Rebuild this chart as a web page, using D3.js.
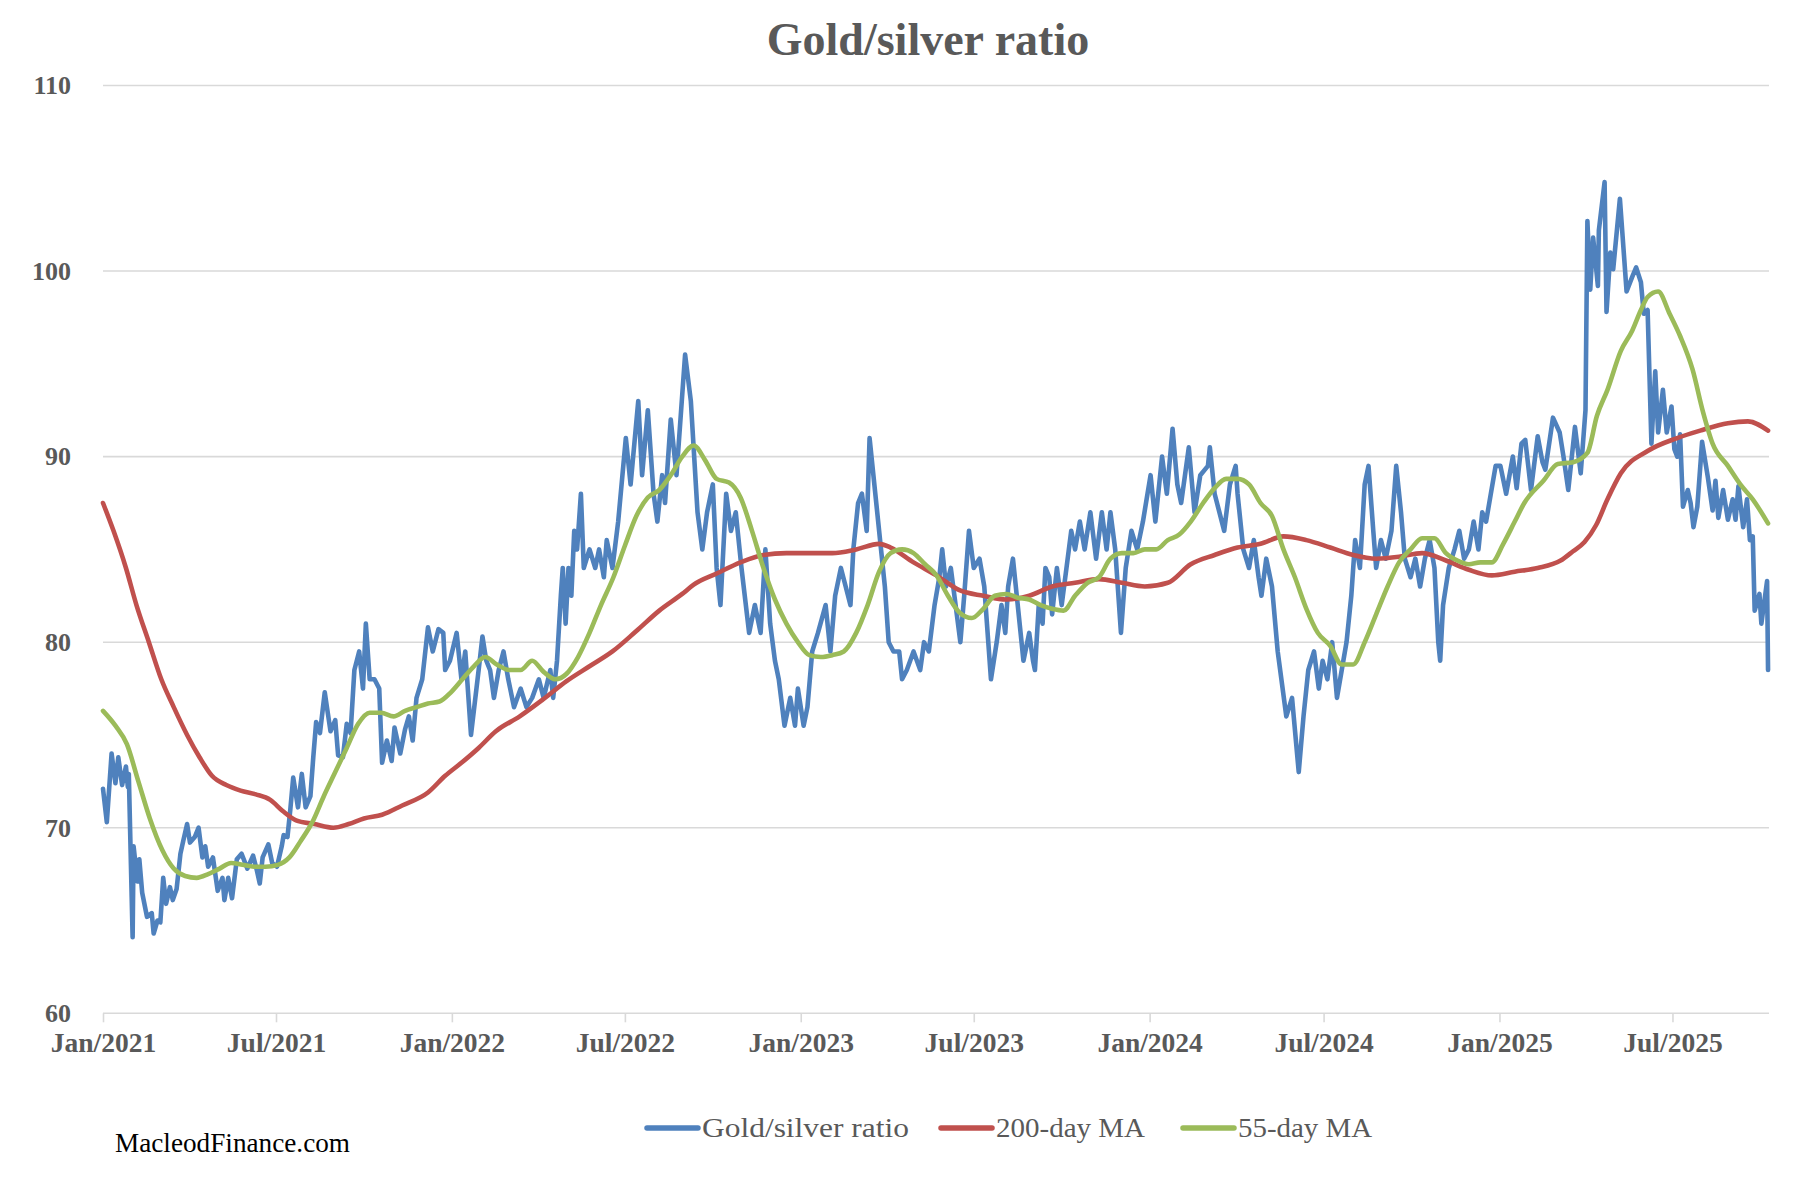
<!DOCTYPE html>
<html>
<head>
<meta charset="utf-8">
<script src="https://cdn.jsdelivr.net/npm/d3@7"></script>
<style>
  html, body { margin: 0; padding: 0; background: #fff; }
  svg text { font-family: "Liberation Serif", "DejaVu Serif", serif; }
</style>
</head>
<body>
<div id="chart"></div>
<script>
// gold/silver ratio
const ratio = [
  ["2021-01-01",72.1],["2021-01-05",70.3],["2021-01-10",74.0],["2021-01-14",72.4],["2021-01-17",73.8],["2021-01-21",72.3],
  ["2021-01-25",73.3],["2021-01-27",72.2],["2021-01-28",72.9],["2021-02-01",64.1],["2021-02-02",69.0],["2021-02-06",67.1],
  ["2021-02-08",68.3],["2021-02-11",66.5],["2021-02-16",65.2],["2021-02-21",65.4],["2021-02-23",64.3],["2021-02-27",65.0],
  ["2021-03-02",64.9],["2021-03-05",67.3],["2021-03-08",65.9],["2021-03-12",66.8],["2021-03-15",66.1],["2021-03-19",66.7],
  ["2021-03-23",68.6],["2021-03-26",69.3],["2021-03-30",70.2],["2021-04-02",69.2],["2021-04-07",69.5],["2021-04-11",70.0],
  ["2021-04-15",68.4],["2021-04-18",69.0],["2021-04-21",67.9],["2021-04-26",68.4],["2021-05-01",66.6],["2021-05-06",67.3],
  ["2021-05-08",66.1],["2021-05-12",67.3],["2021-05-16",66.2],["2021-05-21",68.3],["2021-05-26",68.6],["2021-06-01",67.8],
  ["2021-06-07",68.5],["2021-06-11",67.7],["2021-06-14",67.0],["2021-06-17",68.4],["2021-06-23",69.1],["2021-06-27",68.1],
  ["2021-07-02",67.9],["2021-07-07",69.0],["2021-07-09",69.6],["2021-07-13",69.5],["2021-07-16",71.0],["2021-07-19",72.7],
  ["2021-07-24",71.1],["2021-07-28",72.9],["2021-08-01",71.1],["2021-08-06",71.7],["2021-08-09",73.8],["2021-08-12",75.7],
  ["2021-08-16",75.1],["2021-08-21",77.3],["2021-08-27",75.2],["2021-09-01",75.8],["2021-09-04",73.9],["2021-09-09",73.8],
  ["2021-09-13",75.6],["2021-09-17",75.1],["2021-09-21",78.5],["2021-09-26",79.5],["2021-09-30",77.5],["2021-10-03",81.0],
  ["2021-10-07",78.0],["2021-10-12",78.0],["2021-10-17",77.5],["2021-10-20",73.5],["2021-10-25",74.7],["2021-10-30",73.6],
  ["2021-11-02",75.4],["2021-11-08",74.0],["2021-11-13",75.3],["2021-11-17",76.0],["2021-11-21",74.7],["2021-11-25",77.0],
  ["2021-12-01",78.0],["2021-12-07",80.8],["2021-12-12",79.5],["2021-12-18",80.7],["2021-12-23",80.5],["2021-12-25",78.5],
  ["2021-12-30",79.0],
  ["2022-01-06",80.5],["2022-01-11",78.0],["2022-01-15",79.5],["2022-01-21",75.0],["2022-01-29",78.5],["2022-02-02",80.3],
  ["2022-02-06",79.0],["2022-02-10",78.5],["2022-02-14",77.0],["2022-02-19",78.5],["2022-02-24",79.5],["2022-03-01",78.0],
  ["2022-03-07",76.5],["2022-03-14",77.5],["2022-03-20",76.5],["2022-03-26",77.0],["2022-04-02",78.0],["2022-04-07",77.0],
  ["2022-04-14",78.5],["2022-04-17",77.0],["2022-04-21",79.0],["2022-04-25",82.5],["2022-04-27",84.0],["2022-04-30",81.0],
  ["2022-05-03",84.0],["2022-05-06",82.5],["2022-05-09",86.0],["2022-05-12",85.0],["2022-05-16",88.0],["2022-05-19",84.0],
  ["2022-05-25",85.0],["2022-05-31",84.0],["2022-06-04",85.0],["2022-06-09",83.5],["2022-06-12",85.5],["2022-06-18",84.0],
  ["2022-06-24",86.5],["2022-07-02",91.0],["2022-07-07",88.5],["2022-07-15",93.0],["2022-07-19",89.0],["2022-07-25",92.5],
  ["2022-07-31",88.0],["2022-08-04",86.5],["2022-08-09",89.0],["2022-08-12",87.5],["2022-08-18",92.0],["2022-08-24",89.0],
  ["2022-09-02",95.5],["2022-09-08",93.0],["2022-09-15",87.0],["2022-09-20",85.0],["2022-09-25",87.0],["2022-10-01",88.5],
  ["2022-10-05",84.0],["2022-10-09",82.0],["2022-10-15",88.0],["2022-10-20",86.0],["2022-10-25",87.0],["2022-10-31",84.0],
  ["2022-11-08",80.5],["2022-11-14",82.0],["2022-11-20",80.5],["2022-11-25",85.0],["2022-11-30",81.0],["2022-12-05",79.0],
  ["2022-12-09",78.0],["2022-12-15",75.5],["2022-12-21",77.0],["2022-12-26",75.5],["2022-12-29",77.5],
  ["2023-01-04",75.5],["2023-01-08",76.5],["2023-01-13",79.5],["2023-01-19",80.5],["2023-01-27",82.0],["2023-02-01",79.5],
  ["2023-02-06",82.5],["2023-02-12",84.0],["2023-02-17",83.0],["2023-02-22",82.0],["2023-02-25",85.0],["2023-03-02",87.5],
  ["2023-03-06",88.0],["2023-03-11",86.0],["2023-03-14",91.0],["2023-03-20",88.0],["2023-03-26",85.0],["2023-03-30",83.0],
  ["2023-04-03",80.0],["2023-04-08",79.5],["2023-04-14",79.5],["2023-04-17",78.0],["2023-04-22",78.5],["2023-04-29",79.5],
  ["2023-05-06",78.5],["2023-05-10",80.0],["2023-05-15",79.5],["2023-05-21",82.0],["2023-05-26",83.5],["2023-05-29",85.0],
  ["2023-06-02",83.0],["2023-06-07",84.0],["2023-06-12",82.0],["2023-06-17",80.0],["2023-06-21",82.5],["2023-06-26",86.0],
  ["2023-07-01",84.0],["2023-07-07",84.5],["2023-07-12",83.0],["2023-07-19",78.0],["2023-07-25",80.0],["2023-07-30",82.0],
  ["2023-08-03",80.5],["2023-08-06",83.0],["2023-08-11",84.5],["2023-08-16",82.0],["2023-08-22",79.0],["2023-08-28",80.5],
  ["2023-09-01",79.0],["2023-09-03",78.5],["2023-09-07",82.0],["2023-09-11",81.0],["2023-09-14",84.0],["2023-09-18",83.5],
  ["2023-09-21",81.5],["2023-09-26",84.0],["2023-10-01",82.0],["2023-10-06",84.0],["2023-10-11",86.0],["2023-10-15",85.0],
  ["2023-10-20",86.5],["2023-10-25",85.0],["2023-10-31",87.0],["2023-11-06",84.5],["2023-11-12",87.0],["2023-11-17",85.0],
  ["2023-11-21",87.0],["2023-11-26",85.0],["2023-12-02",80.5],["2023-12-07",84.0],["2023-12-13",86.0],["2023-12-19",85.0],
  ["2023-12-25",86.5],
  ["2024-01-02",89.0],["2024-01-07",86.5],["2024-01-14",90.0],["2024-01-19",88.0],["2024-01-25",91.5],["2024-01-30",88.5],
  ["2024-02-03",87.5],["2024-02-11",90.5],["2024-02-17",87.0],["2024-02-23",89.0],["2024-03-02",89.5],["2024-03-04",90.5],
  ["2024-03-09",88.0],["2024-03-19",86.0],["2024-03-25",88.5],["2024-03-31",89.5],["2024-04-02",88.0],["2024-04-08",85.0],
  ["2024-04-14",84.0],["2024-04-19",85.5],["2024-04-24",83.5],["2024-04-27",82.5],["2024-05-02",84.5],["2024-05-08",83.0],
  ["2024-05-14",79.5],["2024-05-23",76.0],["2024-05-29",77.0],["2024-06-05",73.0],["2024-06-10",76.0],["2024-06-15",78.5],
  ["2024-06-21",79.5],["2024-06-26",77.5],["2024-06-30",79.0],["2024-07-05",78.0],["2024-07-10",80.0],["2024-07-15",77.0],
  ["2024-07-20",78.5],["2024-07-25",80.0],["2024-07-30",82.5],["2024-08-03",85.5],["2024-08-08",84.0],["2024-08-13",88.5],
  ["2024-08-17",89.5],["2024-08-22",86.0],["2024-08-25",84.0],["2024-08-30",85.5],["2024-09-04",84.5],["2024-09-10",86.0],
  ["2024-09-15",89.5],["2024-09-20",87.0],["2024-09-24",84.5],["2024-09-30",83.5],["2024-10-05",84.5],["2024-10-10",83.0],
  ["2024-10-15",84.5],["2024-10-20",85.5],["2024-10-25",84.0],["2024-10-29",80.0],["2024-10-31",79.0],["2024-11-03",82.0],
  ["2024-11-09",84.0],["2024-11-15",85.0],["2024-11-20",86.0],["2024-11-25",84.5],["2024-11-30",85.0],["2024-12-05",86.5],
  ["2024-12-10",85.0],["2024-12-14",87.0],["2024-12-18",86.5],["2024-12-23",88.0],["2024-12-28",89.5],
  ["2025-01-02",89.5],["2025-01-08",88.0],["2025-01-15",90.0],["2025-01-19",88.3],["2025-01-24",90.7],["2025-01-28",90.9],
  ["2025-02-03",88.2],["2025-02-10",91.1],["2025-02-15",89.7],["2025-02-18",89.3],["2025-02-26",92.1],["2025-03-05",91.3],
  ["2025-03-09",90.0],["2025-03-14",88.2],["2025-03-21",91.6],["2025-03-27",89.1],["2025-04-01",92.5],["2025-04-03",102.7],
  ["2025-04-06",99.0],["2025-04-09",101.8],["2025-04-14",99.2],["2025-04-15",102.2],["2025-04-21",104.8],["2025-04-23",97.8],
  ["2025-04-27",101.0],["2025-04-30",100.1],["2025-05-07",103.9],["2025-05-14",98.9],["2025-05-20",99.7],["2025-05-24",100.2],
  ["2025-05-29",99.4],["2025-06-01",97.7],["2025-06-05",97.9],["2025-06-09",90.7],["2025-06-13",94.6],["2025-06-16",91.3],
  ["2025-06-21",93.6],["2025-06-25",91.3],["2025-06-30",92.7],["2025-07-03",90.4],["2025-07-06",90.0],["2025-07-09",91.2],
  ["2025-07-12",87.3],["2025-07-17",88.2],["2025-07-20",87.5],["2025-07-23",86.2],["2025-07-27",87.3],["2025-08-01",90.8],
  ["2025-08-07",88.9],["2025-08-12",87.1],["2025-08-15",88.7],["2025-08-18",86.7],["2025-08-23",88.2],["2025-08-28",86.6],
  ["2025-09-02",87.7],["2025-09-05",86.6],["2025-09-08",88.4],["2025-09-13",86.2],["2025-09-17",87.7],["2025-09-20",85.5],
  ["2025-09-23",85.7],["2025-09-25",81.7],["2025-09-30",82.6],["2025-10-02",81.0],["2025-10-08",83.3],["2025-10-09",78.5]
];

const ma200 = [
  ["2021-01-01",87.5],["2021-01-12",86.0],["2021-01-25",84.0],["2021-02-05",82.0],["2021-02-18",80.0],["2021-03-03",78.0],
  ["2021-03-16",76.5],["2021-03-30",75.0],["2021-04-12",73.8],["2021-04-25",72.8],["2021-05-10",72.3],["2021-05-25",72.0],
  ["2021-06-10",71.8],["2021-06-25",71.5],["2021-07-08",70.9],["2021-07-22",70.4],["2021-08-10",70.2],["2021-08-30",70.0],
  ["2021-09-15",70.2],["2021-10-01",70.5],["2021-10-20",70.7],["2021-11-10",71.2],["2021-12-07",71.9],["2021-12-25",72.8],
  ["2022-01-11",73.5],["2022-01-29",74.3],["2022-02-16",75.2],["2022-03-13",76.0],["2022-04-06",76.9],["2022-05-01",77.9],
  ["2022-05-25",78.7],["2022-06-18",79.5],["2022-07-13",80.6],["2022-08-06",81.7],["2022-08-30",82.6],["2022-09-11",83.1],
  ["2022-10-05",83.7],["2022-10-30",84.3],["2022-11-23",84.7],["2022-12-17",84.8],["2023-01-10",84.8],["2023-02-03",84.8],
  ["2023-02-28",85.0],["2023-03-24",85.3],["2023-04-05",85.1],["2023-04-29",84.3],["2023-05-23",83.6],["2023-06-16",82.8],
  ["2023-07-11",82.5],["2023-08-04",82.3],["2023-08-28",82.5],["2023-09-21",83.0],["2023-10-15",83.2],["2023-11-09",83.4],
  ["2023-12-03",83.2],["2023-12-27",83.0],["2024-01-20",83.2],["2024-02-13",84.2],["2024-03-09",84.7],["2024-04-02",85.1],
  ["2024-04-26",85.3],["2024-05-20",85.7],["2024-06-13",85.5],["2024-07-08",85.1],["2024-08-01",84.7],["2024-08-25",84.5],
  ["2024-09-18",84.6],["2024-10-12",84.8],["2024-11-06",84.4],["2024-11-30",83.9],["2024-12-24",83.6],["2025-01-17",83.8],
  ["2025-02-10",84.0],["2025-03-06",84.4],["2025-03-19",84.9],["2025-03-31",85.4],["2025-04-12",86.3],["2025-04-24",87.7],
  ["2025-05-08",89.1],["2025-06-05",90.3],["2025-07-06",91.0],["2025-07-30",91.4],["2025-08-28",91.8],["2025-09-18",91.9],
  ["2025-10-09",91.4]
];

const ma55 = [
  ["2021-01-01",76.3],["2021-01-14",75.5],["2021-01-26",74.5],["2021-02-07",72.5],["2021-02-19",70.5],["2021-03-04",68.8],
  ["2021-03-16",67.8],["2021-03-28",67.4],["2021-04-09",67.3],["2021-04-21",67.5],["2021-05-03",67.8],["2021-05-15",68.1],
  ["2021-05-27",68.0],["2021-06-08",67.9],["2021-06-20",67.9],["2021-07-03",68.0],["2021-07-15",68.4],["2021-07-27",69.3],
  ["2021-08-08",70.3],["2021-08-20",71.7],["2021-09-01",73.0],["2021-09-13",74.3],["2021-09-25",75.6],["2021-10-07",76.2],
  ["2021-10-19",76.2],["2021-11-01",76.0],["2021-11-13",76.3],["2021-11-25",76.5],["2021-12-07",76.7],["2021-12-19",76.8],
  ["2021-12-31",77.3],["2022-01-12",78.0],["2022-01-24",78.7],["2022-02-05",79.2],["2022-02-17",78.8],["2022-03-02",78.5],
  ["2022-03-14",78.5],["2022-03-26",79.0],["2022-04-07",78.4],["2022-04-19",78.0],["2022-05-01",78.3],["2022-05-13",79.2],
  ["2022-05-25",80.5],["2022-06-06",82.0],["2022-06-19",83.5],["2022-07-01",85.2],["2022-07-13",86.8],["2022-07-25",87.8],
  ["2022-08-06",88.2],["2022-08-18",89.0],["2022-08-30",90.0],["2022-09-11",90.6],["2022-09-23",89.8],["2022-10-05",88.8],
  ["2022-10-18",88.6],["2022-10-30",87.8],["2022-11-11",86.0],["2022-11-23",84.0],["2022-12-05",82.3],["2022-12-17",81.0],
  ["2022-12-29",80.0],["2023-01-10",79.3],["2023-01-22",79.2],["2023-02-03",79.3],["2023-02-15",79.5],["2023-02-28",80.5],
  ["2023-03-12",82.0],["2023-03-24",83.8],["2023-04-05",84.8],["2023-04-17",85.0],["2023-04-29",84.8],["2023-05-11",84.2],
  ["2023-05-23",83.6],["2023-06-04",82.5],["2023-06-16",81.6],["2023-06-29",81.3],["2023-07-11",81.8],["2023-07-23",82.5],
  ["2023-08-04",82.6],["2023-08-16",82.4],["2023-08-28",82.3],["2023-09-09",82.0],["2023-09-21",81.8],["2023-10-03",81.7],
  ["2023-10-15",82.5],["2023-10-28",83.2],["2023-11-09",83.5],["2023-11-21",84.5],["2023-12-03",84.8],["2023-12-15",84.8],
  ["2023-12-27",85.0],["2024-01-08",85.0],["2024-01-20",85.5],["2024-02-01",85.8],["2024-02-13",86.5],["2024-02-26",87.5],
  ["2024-03-09",88.3],["2024-03-21",88.8],["2024-04-02",88.8],["2024-04-14",88.5],["2024-04-26",87.5],["2024-05-08",86.8],
  ["2024-05-20",85.0],["2024-06-01",83.5],["2024-06-13",81.8],["2024-06-25",80.5],["2024-07-08",79.8],["2024-07-20",78.8],
  ["2024-08-01",78.8],["2024-08-13",80.0],["2024-08-25",81.5],["2024-09-06",83.0],["2024-09-18",84.3],["2024-09-30",85.0],
  ["2024-10-12",85.6],["2024-10-25",85.6],["2024-11-06",84.8],["2024-11-18",84.4],["2024-11-30",84.2],["2024-12-12",84.3],
  ["2024-12-24",84.3],["2025-01-05",85.3],["2025-01-17",86.5],["2025-01-27",87.5],["2025-02-16",88.7],["2025-03-03",89.6],
  ["2025-03-19",89.7],["2025-04-03",90.2],["2025-04-13",92.2],["2025-04-24",93.6],["2025-05-08",95.7],["2025-05-20",96.8],
  ["2025-05-29",97.9],["2025-06-05",98.6],["2025-06-16",98.9],["2025-06-28",97.7],["2025-07-09",96.5],["2025-07-22",94.7],
  ["2025-08-02",92.4],["2025-08-12",90.7],["2025-08-28",89.5],["2025-09-10",88.5],["2025-09-23",87.7],["2025-10-09",86.4]
];

const yTicks = [60, 70, 80, 90, 100, 110];
const xTicks = ["2021-01-01","2021-07-01","2022-01-01","2022-07-01","2023-01-01","2023-07-01",
                "2024-01-01","2024-07-01","2025-01-01","2025-07-01"];
const xDomain = ["2021-01-01", "2025-10-10"];

const series = [
  { name: "Gold/silver ratio", data: ratio, color: "#4F81BD", curve: d3.curveLinear },
  { name: "200-day MA", data: ma200, color: "#C0504D", curve: d3.curveMonotoneX },
  { name: "55-day MA", data: ma55, color: "#9BBB59", curve: d3.curveMonotoneX }
];

const width = 1804, height = 1178;
const parse = d3.timeParse("%Y-%m-%d");
const grey = "#595959";

const svg = d3.select("#chart").append("svg")
    .attr("width", width)
    .attr("height", height);

const x = d3.scaleTime()
    .domain(xDomain.map(parse))
    .range([103, 1769]);

const y = d3.scaleLinear()
    .domain([60, 110])
    .range([1013.3, 85.5]);

// gridlines
svg.append("g")
    .selectAll("line")
    .data(yTicks)
    .enter()
    .append("line")
    .attr("x1", 103)
    .attr("x2", 1769)
    .attr("y1", d => y(d))
    .attr("y2", d => y(d))
    .attr("stroke", "#D9D9D9")
    .attr("stroke-width", 1.6);

// y labels
svg.append("g")
    .selectAll("text")
    .data(yTicks)
    .enter()
    .append("text")
    .attr("x", 71)
    .attr("y", d => y(d))
    .attr("dy", "0.34em")
    .attr("text-anchor", "end")
    .attr("font-size", 26)
    .attr("font-weight", "bold")
    .attr("fill", grey)
    .text(d => d);

// x axis
const xAxis = d3.axisBottom(x)
    .tickValues(xTicks.map(parse))
    .tickFormat(d3.timeFormat("%b/%Y"))
    .tickSize(9)
    .tickPadding(10);

const gx = svg.append("g")
    .attr("transform", `translate(0,${y(60)})`)
    .call(xAxis);
gx.select(".domain").remove();
gx.selectAll(".tick line").attr("stroke", "#D9D9D9").attr("stroke-width", 1.6);
gx.selectAll(".tick text")
    .attr("font-size", 27.5)
    .attr("font-weight", "bold")
    .attr("font-family", "Liberation Serif, DejaVu Serif, serif")
    .attr("fill", grey);

// lines
const line = d3.line()
    .x(d => x(parse(d[0])))
    .y(d => y(d[1]));

svg.append("g")
    .selectAll("path")
    .data(series)
    .enter()
    .append("path")
    .attr("d", s => line.curve(s.curve)(s.data))
    .attr("fill", "none")
    .attr("stroke", s => s.color)
    .attr("stroke-width", 4.6)
    .attr("stroke-linejoin", "round")
    .attr("stroke-linecap", "round");

// title
svg.append("text")
    .attr("x", 928)
    .attr("y", 55)
    .attr("text-anchor", "middle")
    .attr("font-size", 46)
    .attr("font-weight", "bold")
    .attr("fill", grey)
    .text("Gold/silver ratio");

// legend: swatch start and text width per item, as laid out in the original
const legendX = [645, 939, 1181];
const legendTextW = [207, 149, 134];
const legend = svg.append("g").attr("transform", "translate(0,1128)");
series.forEach((s, i) => {
    const item = legend.append("g").attr("transform", `translate(${legendX[i]},0)`);
    item.append("line")
        .attr("x1", 2).attr("x2", 53)
        .attr("y1", 0).attr("y2", 0)
        .attr("stroke", s.color)
        .attr("stroke-width", 5.5)
        .attr("stroke-linecap", "round");
    item.append("text")
        .attr("x", 57)
        .attr("y", 0)
        .attr("dy", "0.32em")
        .attr("font-size", 28)
        .attr("fill", grey)
        .attr("textLength", legendTextW[i])
        .attr("lengthAdjust", "spacingAndGlyphs")
        .text(s.name);
});

// source
svg.append("text")
    .attr("x", 115)
    .attr("y", 1152)
    .attr("font-size", 26.5)
    .attr("fill", "#000")
    .attr("textLength", 235)
    .attr("lengthAdjust", "spacingAndGlyphs")
    .text("MacleodFinance.com");
</script>
</body>
</html>
